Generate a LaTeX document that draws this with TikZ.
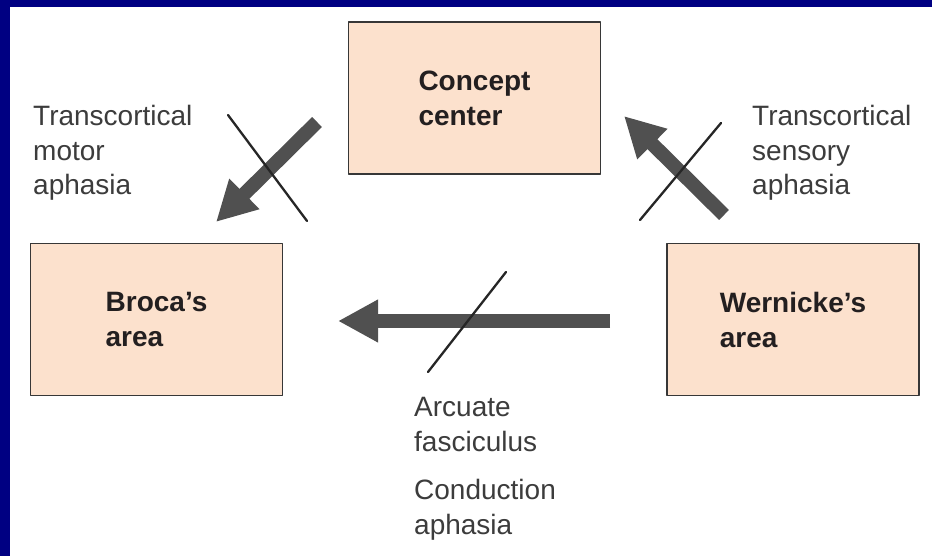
\documentclass[tikz,border=0pt]{standalone}
\usepackage{fontspec}
\setmainfont{Liberation Sans}
\usetikzlibrary{arrows.meta}
\definecolor{nenxanh}{RGB}{0,0,130}
\definecolor{hopnen}{RGB}{252,225,205}
\definecolor{hopvien}{RGB}{55,55,55}
\definecolor{chuden}{RGB}{35,31,32}
\definecolor{chuxam}{RGB}{60,60,60}
\definecolor{muiten}{RGB}{80,80,80}
\begin{document}
\begin{tikzpicture}[x=1pt,y=-1pt,font=\fontsize{28}{34.5}\selectfont,line join=round,line cap=round]
	%%%%Khung nền
	\fill[nenxanh] (0,0) rectangle (932,556);
	\fill[white] (10,7) rectangle (932,556);
	\useasboundingbox (0,0) rectangle (932,556);
	\tikzset{areabox/.style={draw=hopvien,fill=hopnen,line width=1.2pt,minimum width=252pt,minimum height=152pt,inner sep=0pt,align=left,font=\fontsize{28}{35}\selectfont\bfseries,text=chuden},
		note/.style={anchor=base west,inner sep=0pt,align=left,text=chuxam},
		fatarrow/.style={draw=muiten,line width=14pt,line cap=butt,-{Triangle[width=40pt,length=40pt]}},
		cutline/.style={draw=black!85,line width=2.3pt}}
	%%%%Ba vùng
	\node[areabox] (concept) at (474.5,98) {Concept\\center};
	\node[areabox] (broca) at (156.5,319.5) {Broca's\\area};
	\node[areabox] (wernicke) at (793,319.5) {Wernicke's\\area};
	%%%%Chú thích (mốc ở dòng cuối)
	\node[note] (motor) at (33,195) {Transcortical\\motor\\aphasia};
	\node[note] (sensory) at (752,195) {Transcortical\\sensory\\aphasia};
	\node[note] (arcuate) at (414,451) {Arcuate\\fasciculus};
	\node[note] (conduction) at (414,534) {Conduction\\aphasia};
	%%%%Mũi tên
	\coordinate (m1) at (317,122); \coordinate (m2) at (216,222);
	\coordinate (s1) at (724,215); \coordinate (s2) at (624,116);
	\coordinate (c1) at (610,321); \coordinate (c2) at (338,321);
	\draw[fatarrow] (m1) -- (m2);
	\draw[fatarrow] (s1) -- (s2);
	\draw[fatarrow] (c1) -- (c2);
	%Gạch chéo
	\coordinate (g1) at (228,115); \coordinate (g2) at (307,221);
	\coordinate (g3) at (640,220); \coordinate (g4) at (721,123);
	\coordinate (g5) at (428,372); \coordinate (g6) at (506,272);
	\draw[cutline] (g1) -- (g2);
	\draw[cutline] (g3) -- (g4);
	\draw[cutline] (g5) -- (g6);
\end{tikzpicture}
\end{document}
